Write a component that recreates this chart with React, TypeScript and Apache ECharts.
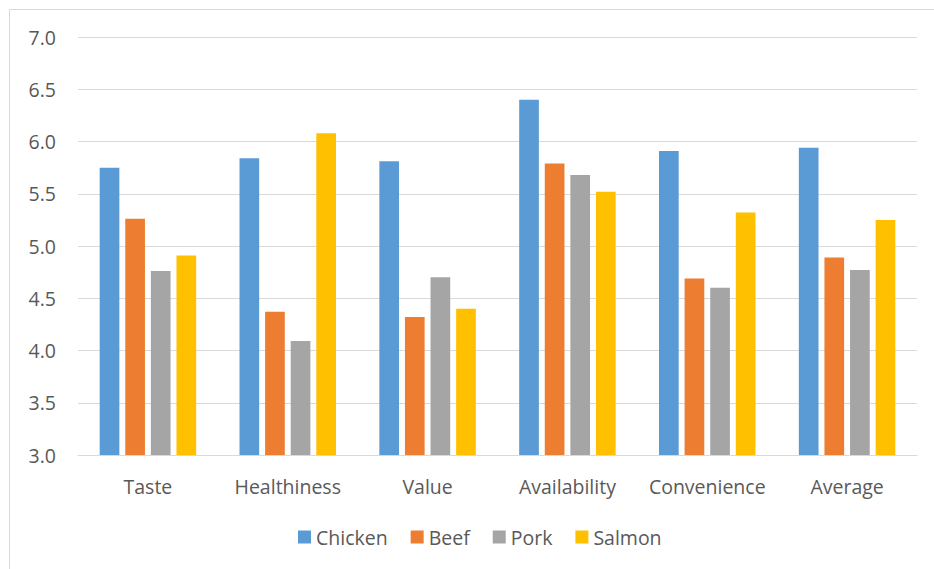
import React, { useEffect, useRef } from "react";
import * as echarts from "echarts";

const categories = ["Taste", "Healthiness", "Value", "Availability", "Convenience", "Average"];
const seriesNames = ["Chicken", "Beef", "Pork", "Salmon"];
const chicken = [5.75, 5.84, 5.81, 6.4, 5.91, 5.94];
const beef = [5.26, 4.37, 4.32, 5.79, 4.69, 4.89];
const pork = [4.76, 4.09, 4.7, 5.68, 4.6, 4.77];
const salmon = [4.91, 6.08, 4.4, 5.52, 5.32, 5.25];
const colors = ["#5B9BD5", "#ED7D31", "#A5A5A5", "#FFC000"];

const FONT = "'Open Sans', 'Noto Sans', sans-serif";
const TEXT = "#595959";
const FONT_SIZE = 19.5;

export default function App() {
  const ref = useRef<HTMLDivElement>(null);

  useEffect(() => {
    if (!ref.current) return;
    const chart = echarts.init(ref.current, null, { renderer: "svg" });
    const values = [chicken, beef, pork, salmon];
    chart.setOption({
      animation: false,
      backgroundColor: "#ffffff",
      textStyle: { fontFamily: FONT },
      graphic: [
        {
          type: "rect",
          shape: { x: 9.5, y: 9.5, width: 960, height: 600 },
          style: { fill: "none", stroke: "#D9D9D9", lineWidth: 1 },
          silent: true,
          z: -1,
        },
      ],
      grid: { left: 78, right: 17, top: 37, bottom: 114 },
      legend: {
        data: seriesNames,
        top: 522,
        left: 293,
        icon: "rect",
        itemWidth: 13,
        itemHeight: 13,
        itemGap: 23,
        textStyle: { color: TEXT, fontSize: FONT_SIZE, fontFamily: FONT },
      },
      xAxis: {
        type: "category",
        data: categories,
        axisLine: { show: true, lineStyle: { color: "#D9D9D9", width: 1 } },
        axisTick: { show: false },
        axisLabel: {
          color: TEXT,
          fontSize: FONT_SIZE,
          fontFamily: FONT,
          margin: 21,
          interval: 0,
        },
      },
      yAxis: {
        type: "value",
        min: 3,
        max: 7,
        interval: 0.5,
        axisLine: { show: false },
        axisTick: { show: false },
        splitLine: { lineStyle: { color: "#D9D9D9", width: 1 } },
        axisLabel: {
          color: TEXT,
          fontSize: FONT_SIZE,
          fontFamily: FONT,
          margin: 22,
          formatter: (v: number) => v.toFixed(1),
        },
      },
      series: seriesNames.map((name, i) => ({
        name,
        type: "bar",
        data: values[i],
        itemStyle: { color: colors[i] },
        barGap: "30%",
        barCategoryGap: "31%",
      })),
    });
    return () => chart.dispose();
  }, []);

  return (
    <div
      ref={ref}
      style={{ position: "fixed", left: 0, top: 0, width: 934, height: 569 }}
    />
  );
}
